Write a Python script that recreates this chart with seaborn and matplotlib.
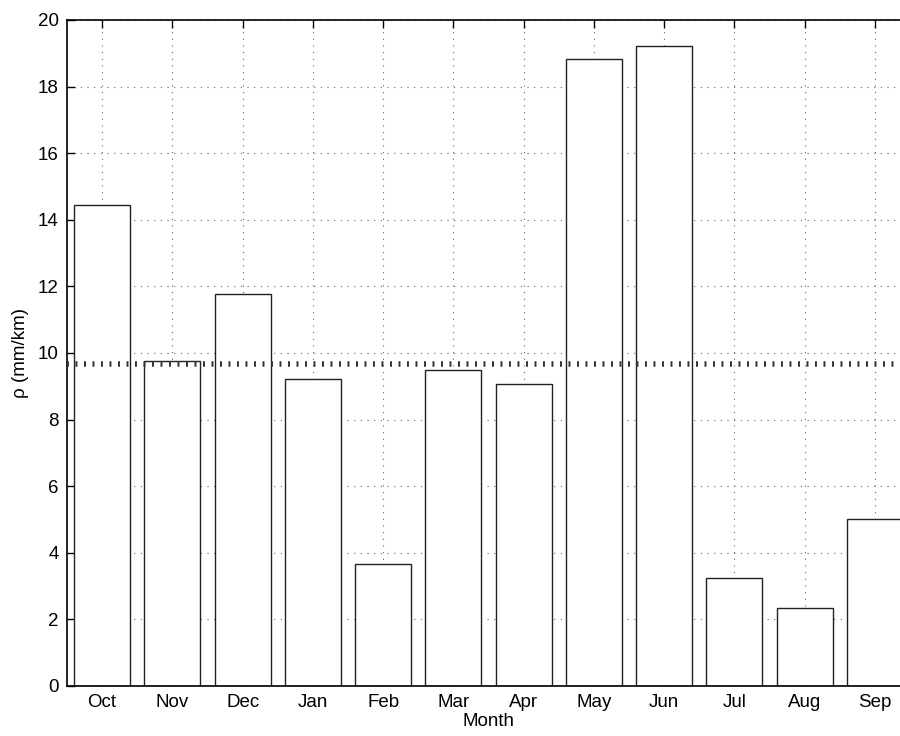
import numpy as np
import pandas as pd
import matplotlib
matplotlib.use('Agg')
import matplotlib.pyplot as plt
import seaborn as sns

# Monthly values
months = ['Oct', 'Nov', 'Dec', 'Jan', 'Feb', 'Mar', 'Apr', 'May', 'Jun', 'Jul', 'Aug', 'Sep']
rho = [14.44, 9.76, 11.77, 9.22, 3.66, 9.49, 9.07, 18.83, 19.22, 3.24, 2.34, 5.01]
y_ticks = [0, 2, 4, 6, 8, 10, 12, 14, 16, 18, 20]

df = pd.DataFrame({'month': months, 'rho': rho})
rho_mean = np.mean(rho)

sns.set_style("white")
plt.rcParams['font.family'] = ['Liberation Sans', 'DejaVu Sans']
plt.rcParams['text.color'] = 'black'
plt.rcParams['axes.labelcolor'] = 'black'
plt.rcParams['xtick.color'] = 'black'
plt.rcParams['ytick.color'] = 'black'

fig = plt.figure(figsize=(9, 7.36), dpi=100)
ax = fig.add_axes([67 / 900, 50 / 736, 843 / 900, 666 / 736])

sns.barplot(x='month', y='rho', data=df, order=months, color='white',
            edgecolor='#222222', linewidth=1.0, width=0.8, saturation=1, ax=ax, zorder=2)

# dotted MATLAB-style grid, behind the bars
ax.grid(True, linestyle=(0, (1, 5)), color='#666666', linewidth=0.8)
ax.set_axisbelow(True)

# mean line on top of the bars
ax.axhline(rho_mean, color='#333333', linewidth=4, linestyle=(0, (0.35, 1.18)), zorder=5)

ax.set_xlim(-0.5, 11.5)
ax.set_ylim(0, 20)
ax.set_yticks(y_ticks)
ax.set_xlabel('Month', fontsize=13.5, labelpad=1)
ax.set_ylabel('ρ (mm/km)', fontsize=13.5, labelpad=6)
ax.tick_params(axis='both', direction='in', length=6, width=1, labelsize=13.5,
               top=True, left=True, bottom=True, pad=6)

for s in ['left', 'bottom', 'top']:
    ax.spines[s].set_visible(True)
    ax.spines[s].set_color('black')
    ax.spines[s].set_linewidth(1.2)
ax.spines['right'].set_visible(False)

fig.savefig('out.png', dpi=100)
